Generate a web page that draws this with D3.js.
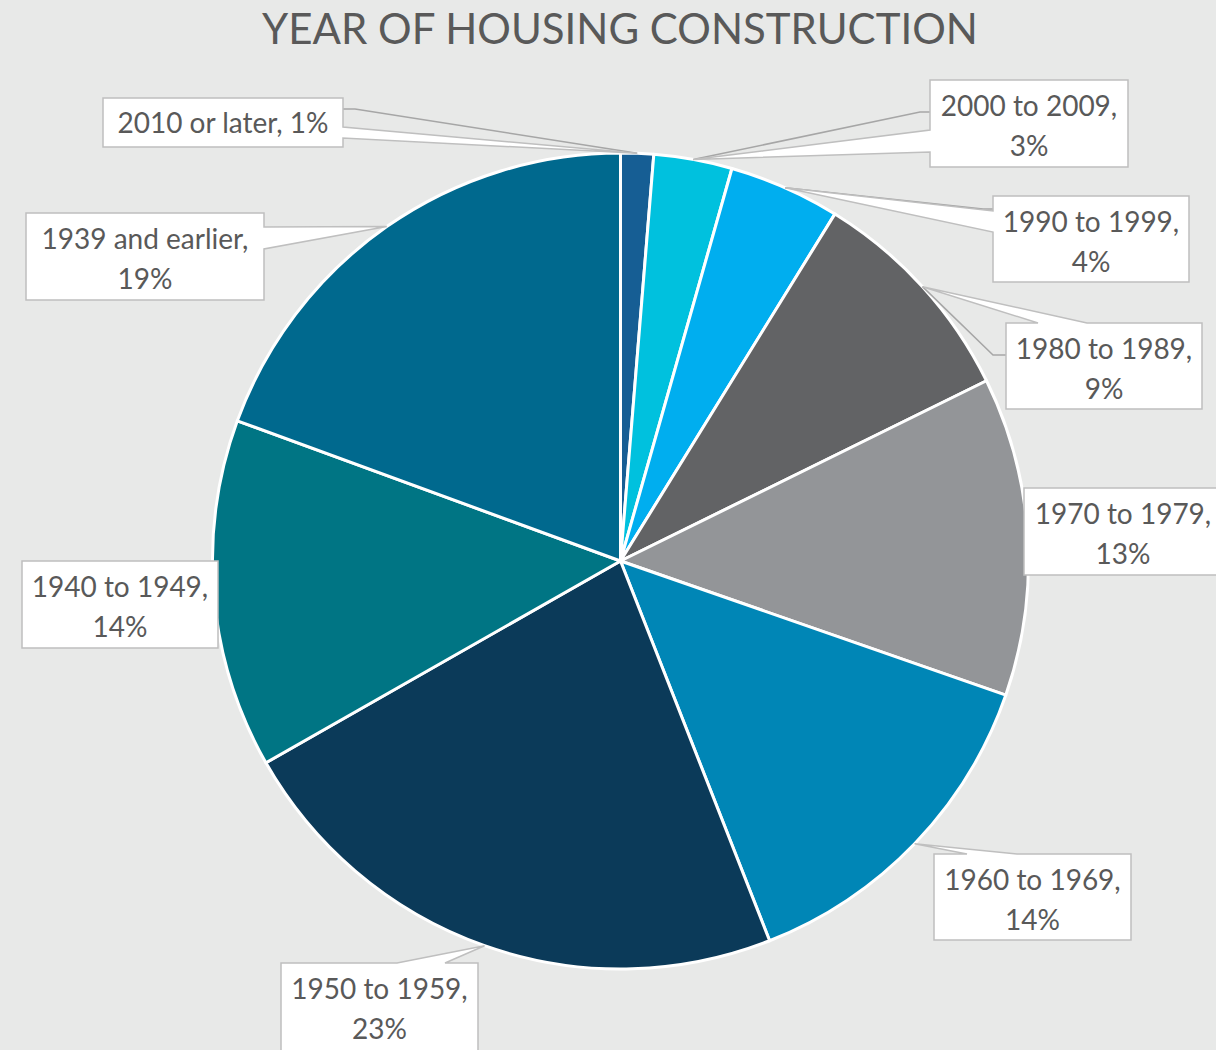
<!DOCTYPE html>
<html>
<head>
<meta charset="utf-8">
<script src="https://cdn.jsdelivr.net/npm/d3@7"></script>
<style>
  body { margin: 0; background: #e8e9e8; }
  text { font-family: Lato, "Open Sans", sans-serif; fill: #595959; }
</style>
</head>
<body>
<svg width="1216" height="1050"></svg>
<script>
const categories = ["2010 or later", "2000 to 2009", "1990 to 1999", "1980 to 1989", "1970 to 1979",
                    "1960 to 1969", "1950 to 1959", "1940 to 1949", "1939 and earlier"];
const shares = [1.3, 3.1, 4.4, 8.9, 12.6, 13.7, 22.7, 13.8, 19.4];
const colors = ["#165e94", "#00c1de", "#00aeef", "#626365", "#939598",
                "#0086b6", "#0b3a59", "#007584", "#00698e"];

// callout boxes, placed by hand like the original (x, y, w, h, wedge edge, wedge base, leader start)
const callouts = [
  { box: [103, 98, 240, 49], side: "right", base: [127, 138], leader: [[343, 109], [355, 109]], oneLine: true },
  { box: [930, 80, 198, 87], side: "left", base: [130, 152], leader: [[930, 112], [920, 112]] },
  { box: [993, 196, 196, 86], side: "left", base: [211, 232], leader: [[993, 209], [983, 209]] },
  { box: [1006, 323, 196, 86], side: "top", base: [1038, 1087], leader: [[1006, 355], [993, 355]] },
  { box: [1024, 488, 198, 87], side: null },
  { box: [934, 854, 197, 86], side: "top", base: [967, 1017] },
  { box: [281, 963, 197, 92], side: "top", base: [397, 445] },
  { box: [22, 561, 196, 87], side: null },
  { box: [26, 213, 238, 87], side: "right", base: [227, 249] }
];

const svg = d3.select("svg");
const cx = 620.5, cy = 561, radius = 408;

svg.append("text")
    .attr("x", 620)
    .attr("y", 44)
    .attr("text-anchor", "middle")
    .style("font-size", "42px")
    .text("YEAR OF HOUSING CONSTRUCTION");

const data = categories.map((c, i) => ({ name: c, value: shares[i], color: colors[i] }));
const total = d3.sum(shares);
const fmt = d3.format(".0%");

const pie = d3.pie().sort(null).value(d => d.value);
const arc = d3.arc().innerRadius(0).outerRadius(radius);
const arcs = pie(data);

const g = svg.append("g").attr("transform", `translate(${cx},${cy})`);

g.selectAll("path.slice")
    .data(arcs)
    .join("path")
    .attr("class", "slice")
    .attr("d", arc)
    .attr("fill", d => d.data.color)
    .attr("stroke", "#fff")
    .attr("stroke-width", 3)
    .attr("stroke-linejoin", "round");

// tip point of each callout: outer edge of the slice at its middle angle
function tipOf(a) {
    const ang = (a.startAngle + a.endAngle) / 2;
    return [cx + radius * Math.sin(ang), cy - radius * Math.cos(ang)];
}

function calloutPath(c, tip) {
    const [x, y, w, h] = c.box;
    const pts = [[x, y]];
    if (c.side === "top") pts.push([c.base[0], y], tip, [c.base[1], y]);
    pts.push([x + w, y]);
    if (c.side === "right") pts.push([x + w, c.base[0]], tip, [x + w, c.base[1]]);
    pts.push([x + w, y + h], [x, y + h]);
    if (c.side === "left") pts.push([x, c.base[1]], tip, [x, c.base[0]]);
    return "M" + pts.map(p => p.join(",")).join("L") + "Z";
}

const labels = svg.append("g");

arcs.forEach((a, i) => {
    const c = callouts[i];
    const tip = tipOf(a);
    if (c.leader) {
        labels.append("polyline")
            .attr("points", [c.leader[0], c.leader[1], tip].map(p => p.join(",")).join(" "))
            .attr("fill", "none")
            .attr("stroke", "#a6a6a6")
            .attr("stroke-width", 1.5);
    }
    labels.append("path")
        .attr("d", calloutPath(c, tip))
        .attr("fill", "#fff")
        .attr("stroke", "#bfbfbf")
        .attr("stroke-width", 1.5);

    const [x, y, w, h] = c.box;
    const pct = fmt(a.data.value / total);
    const t = labels.append("text")
        .attr("text-anchor", "middle")
        .style("font-size", "28px");
    if (c.oneLine) {
        t.append("tspan").attr("x", x + w / 2).attr("y", y + 35).text(a.data.name + ", " + pct);
    } else {
        t.append("tspan").attr("x", x + w / 2).attr("y", y + 36).text(a.data.name + ",");
        t.append("tspan").attr("x", x + w / 2).attr("y", y + 76).text(pct);
    }
});
</script>
</body>
</html>
